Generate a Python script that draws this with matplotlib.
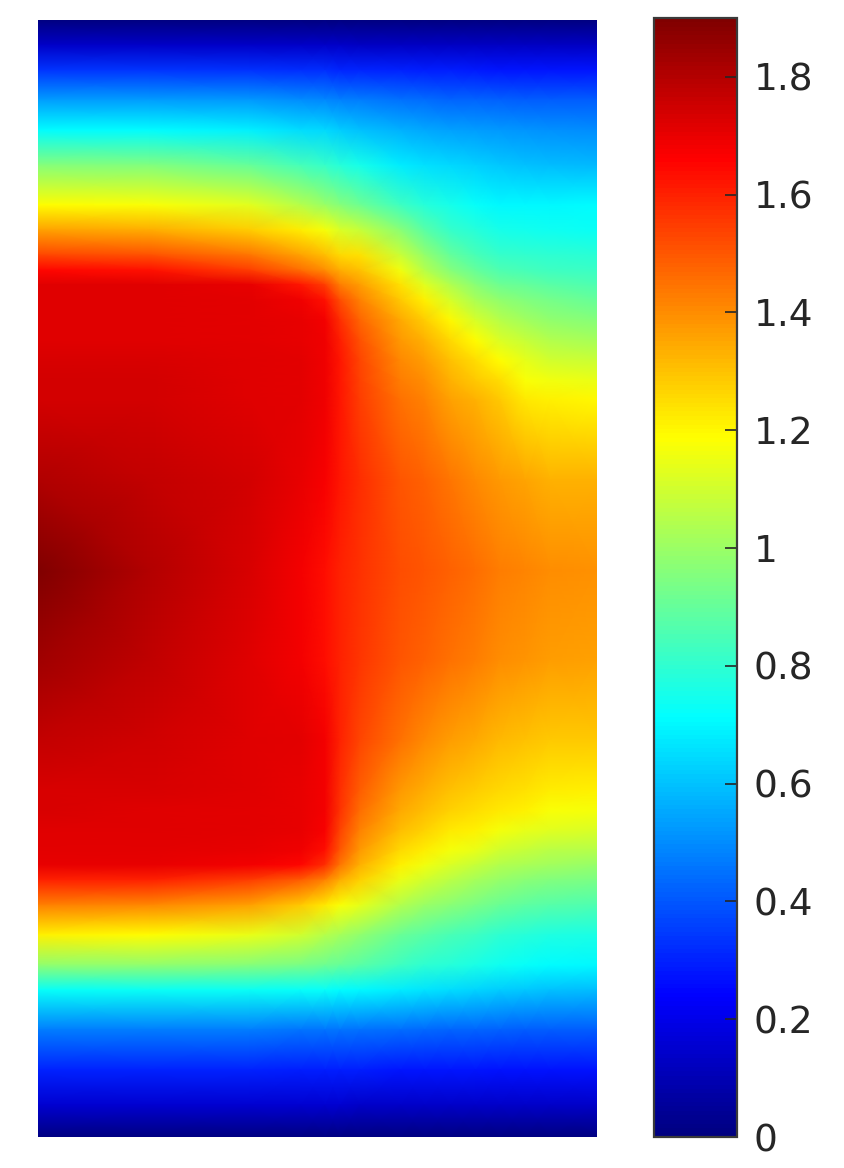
import numpy as np
import matplotlib
matplotlib.use('Agg')
import matplotlib.pyplot as plt
from matplotlib.colors import LinearSegmentedColormap

# Field on a coarse grid (x across 0-1, y down 0-2)
x_grid = [0, .2, .379, .469, .513, .54, .576, .648, .691, .737, .782, .826, .871, .916, 1]
y_grid = [0, .045, .09, .143, .197, .26, .331, .376, .421, .448, .474, .501, .537, .573, .609, .645, .68,
          .824, .985, 1.146, 1.289, 1.379, 1.415, 1.45, 1.486, 1.513, 1.54, 1.585, 1.638, 1.692, 1.737,
          1.808, 1.88, 1.943, 2]

# one list per x_grid column, top to bottom
col_0 = [0, .14, .34, .53, .71, .96, 1.19, 1.36, 1.53, 1.65, 1.72, 1.72, 1.72, 1.72, 1.73, 1.74, 1.74,
         1.81, 1.90, 1.84, 1.77, 1.73, 1.73, 1.72, 1.71, 1.70, 1.60, 1.42, 1.21, .98, .72, .47, .30, .15, 0]
col_1 = [0, .14, .34, .53, .71, .95, 1.18, 1.34, 1.51, 1.63, 1.72, 1.72, 1.72, 1.72, 1.73, 1.74, 1.74,
         1.77, 1.80, 1.78, 1.75, 1.73, 1.72, 1.72, 1.71, 1.70, 1.60, 1.41, 1.19, .98, .73, .47, .30, .15, 0]
col_2 = [0, .14, .33, .52, .69, .90, 1.13, 1.28, 1.44, 1.55, 1.70, 1.71, 1.71, 1.71, 1.72, 1.72, 1.72,
         1.74, 1.73, 1.72, 1.72, 1.72, 1.71, 1.71, 1.70, 1.68, 1.55, 1.36, 1.15, .96, .73, .47, .30, .15, 0]
col_3 = [0, .14, .32, .50, .65, .84, 1.05, 1.22, 1.36, 1.46, 1.62, 1.69, 1.70, 1.70, 1.71, 1.71, 1.71,
         1.70, 1.68, 1.68, 1.71, 1.70, 1.70, 1.70, 1.69, 1.65, 1.49, 1.29, 1.10, .94, .72, .46, .29, .15, 0]
col_4 = [0, .14, .32, .49, .64, .81, 1.00, 1.17, 1.31, 1.40, 1.55, 1.63, 1.68, 1.69, 1.69, 1.69, 1.69,
         1.67, 1.64, 1.64, 1.68, 1.68, 1.68, 1.67, 1.64, 1.58, 1.42, 1.23, 1.05, .92, .72, .46, .29, .15, 0]
col_5 = [0, .14, .31, .48, .62, .78, .96, 1.12, 1.26, 1.34, 1.43, 1.52, 1.58, 1.61, 1.62, 1.62, 1.62,
         1.62, 1.60, 1.60, 1.60, 1.58, 1.57, 1.54, 1.50, 1.44, 1.34, 1.18, 1.02, .90, .71, .46, .29, .15, 0]
col_6 = [0, .13, .31, .47, .60, .75, .92, 1.08, 1.24, 1.30, 1.37, 1.42, 1.47, 1.51, 1.53, 1.54, 1.55,
         1.58, 1.57, 1.56, 1.53, 1.49, 1.46, 1.42, 1.38, 1.33, 1.27, 1.14, .98, .88, .70, .45, .29, .14, 0]
col_7 = [0, .13, .30, .45, .57, .68, .83, .97, 1.09, 1.16, 1.24, 1.29, 1.35, 1.38, 1.41, 1.43, 1.45,
         1.50, 1.52, 1.50, 1.45, 1.38, 1.35, 1.31, 1.26, 1.21, 1.15, 1.04, .91, .83, .68, .44, .28, .14, 0]
col_8 = [0, .13, .295, .44, .555, .66, .78, .88, .99, 1.05, 1.13, 1.21, 1.28, 1.33, 1.37, 1.40, 1.42,
         1.48, 1.50, 1.48, 1.41, 1.34, 1.31, 1.27, 1.22, 1.16, 1.10, 1.00, .88, .80, .665, .435, .28, .14, 0]
col_9 = [0, .13, .29, .43, .54, .64, .75, .81, .90, .96, 1.04, 1.11, 1.20, 1.26, 1.30, 1.33, 1.36,
         1.44, 1.48, 1.45, 1.37, 1.30, 1.27, 1.23, 1.17, 1.12, 1.06, .97, .85, .78, .65, .43, .28, .14, 0]
col_10 = [0, .13, .285, .425, .53, .625, .72, .78, .85, .90, .97, 1.03, 1.11, 1.19, 1.25, 1.29, 1.33,
          1.41, 1.455, 1.425, 1.345, 1.28, 1.25, 1.21, 1.15, 1.08, 1.02, .94, .825, .76, .635, .425, .275, .14, 0]
col_11 = [0, .13, .28, .42, .52, .61, .70, .75, .81, .86, .92, .98, 1.05, 1.12, 1.19, 1.25, 1.29,
          1.38, 1.43, 1.40, 1.32, 1.26, 1.23, 1.17, 1.10, 1.04, .99, .91, .80, .74, .62, .42, .27, .14, 0]
col_12 = [0, .13, .28, .415, .515, .60, .70, .745, .805, .845, .90, .95, 1.01, 1.08, 1.14, 1.18, 1.23,
          1.355, 1.415, 1.385, 1.305, 1.24, 1.21, 1.15, 1.08, 1.025, .97, .89, .785, .725, .61, .415, .27, .14, 0]
col_13 = [0, .13, .28, .41, .51, .59, .70, .74, .80, .83, .88, .93, .98, 1.04, 1.10, 1.16, 1.21,
          1.33, 1.40, 1.37, 1.29, 1.22, 1.18, 1.13, 1.06, 1.01, .95, .87, .77, .71, .60, .41, .27, .14, 0]
col_14 = [0, .13, .28, .41, .50, .58, .71, .73, .79, .82, .86, .90, .96, 1.02, 1.09, 1.15, 1.20,
          1.33, 1.39, 1.36, 1.29, 1.21, 1.17, 1.12, 1.05, .99, .94, .86, .76, .70, .59, .41, .27, .14, 0]

cbar_ticks = [0, .2, .4, .6, .8, 1, 1.2, 1.4, 1.6, 1.8]
cbar_labels = ['0', '0.2', '0.4', '0.6', '0.8', '1', '1.2', '1.4', '1.6', '1.8']
v_max = 1.9

# MATLAB flavour of jet, the stops sit at eighths unlike matplotlib's own
jet_stops = [(0, (0, 0, .5)), (1 / 8, (0, 0, 1)), (3 / 8, (0, 1, 1)),
             (5 / 8, (1, 1, 0)), (7 / 8, (1, 0, 0)), (1, (.5, 0, 0))]
matlab_jet = LinearSegmentedColormap.from_list('matlab_jet', jet_stops, N=256)

field = np.column_stack([col_0, col_1, col_2, col_3, col_4, col_5, col_6, col_7,
                         col_8, col_9, col_10, col_11, col_12, col_13, col_14])

W, H = 844, 1168
fig = plt.figure(figsize=(W / 100, H / 100), dpi=100)
ax = fig.add_axes([38 / W, 1 - 1137 / H, 559 / W, 1117 / H])
cax = fig.add_axes([654 / W, 1 - 1137 / H, 83 / W, 1119 / H])

# Smooth the coarse table with gouraud shading
mesh = ax.pcolormesh(x_grid, y_grid, field, cmap=matlab_jet, vmin=0, vmax=v_max, shading='gouraud')
ax.set_xlim(0, 1)
ax.set_ylim(2, 0)
ax.axis('off')

cb = fig.colorbar(mesh, cax=cax, ticks=cbar_ticks)
cb.ax.set_yticklabels(cbar_labels)
cb.outline.set_edgecolor('#3a3a3a')
cb.outline.set_linewidth(1.6)
cb.ax.tick_params(direction='in', length=8.5, width=1.2, color='#262626', labelcolor='#262626',
                  labelsize=27, pad=12)

fig.savefig('out.png', dpi=100)
